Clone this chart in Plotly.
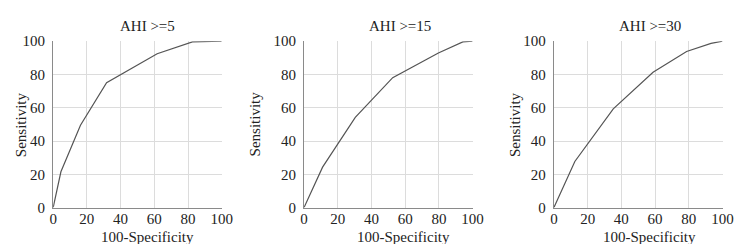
import plotly.graph_objects as go

titles = ["AHI >=5", "AHI >=15", "AHI >=30"]
x_ahi5 = [0, 4.6, 16.2, 31.7, 61.7, 82.6, 100]
y_ahi5 = [0, 21.5, 49.5, 75, 92.5, 99.6, 100]
x_ahi15 = [0, 11, 30.4, 52.6, 79.7, 94.2, 100]
y_ahi15 = [0, 24.3, 54.2, 78.1, 92.9, 99.6, 100]
x_ahi30 = [0, 12.4, 35.2, 58.8, 78.7, 93.2, 100]
y_ahi30 = [0, 27.7, 59.3, 81.3, 93.8, 98.7, 100]
tick_vals = [0, 20, 40, 60, 80, 100]
x_title = "100-Specificity"
y_title = "Sensitivity"

W, H = 750, 244
xdomains = [(42, 214), (298, 470), (553, 725)]
title_cx = [138, 396, 651]
xtitle_cx = [138, 399, 651]
ytitle_x = [10, 248, 514]
ydom = (1 - 205 / H, 1 - 27 / H)
FAM = "Liberation Serif"


def mkfont(size=15):
    return dict(family=FAM, size=size, color="#222222")


fig = go.Figure()
series = [(x_ahi5, y_ahi5), (x_ahi15, y_ahi15), (x_ahi30, y_ahi30)]
annotations = []
for i, ((xs, ys), (x0, x1), t) in enumerate(zip(series, xdomains, titles)):
    suf = "" if i == 0 else str(i + 1)
    fig.add_trace(go.Scatter(x=xs, y=ys, mode="lines",
                             line=dict(color="#555555", width=1.2),
                             xaxis="x" + suf, yaxis="y" + suf, showlegend=False))
    fig.layout["xaxis" + suf] = dict(range=[0, 100], tickvals=tick_vals, showgrid=True,
                                     gridcolor="#dcdcdc", gridwidth=1, zeroline=False,
                                     showline=True, linecolor="#8a8a8a", linewidth=1.2,
                                     ticks="", tickfont=mkfont(15), ticklabelstandoff=-3,
                                     domain=[x0 / W, x1 / W], anchor="y" + suf)
    fig.layout["yaxis" + suf] = dict(range=[0, 100], tickvals=tick_vals, showgrid=True,
                                     gridcolor="#dcdcdc", gridwidth=1, zeroline=False,
                                     showline=True, linecolor="#8a8a8a", linewidth=1.2,
                                     ticks="", tickfont=mkfont(15), ticklabelstandoff=4,
                                     domain=list(ydom), anchor="x" + suf)
    annotations.append(dict(text=t, x=title_cx[i] / W, y=1 - 11 / H, xref="paper", yref="paper",
                            xanchor="center", yanchor="middle", showarrow=False,
                            font=mkfont(15)))
    annotations.append(dict(text=x_title, x=xtitle_cx[i] / W, y=0, xref="paper", yref="paper",
                            xanchor="center", yanchor="bottom", showarrow=False,
                            yshift=-2, borderpad=0, font=mkfont(15)))
    annotations.append(dict(text=y_title, x=ytitle_x[i] / W, y=(ydom[0] + ydom[1]) / 2,
                            xref="paper", yref="paper", textangle=-90,
                            xanchor="center", yanchor="middle", showarrow=False,
                            font=mkfont(15)))

fig.update_layout(width=W, height=H, margin=dict(l=0, r=0, t=0, b=0),
                  paper_bgcolor="white", plot_bgcolor="white",
                  font=dict(family=FAM), annotations=annotations)
fig.write_html("out.html")
